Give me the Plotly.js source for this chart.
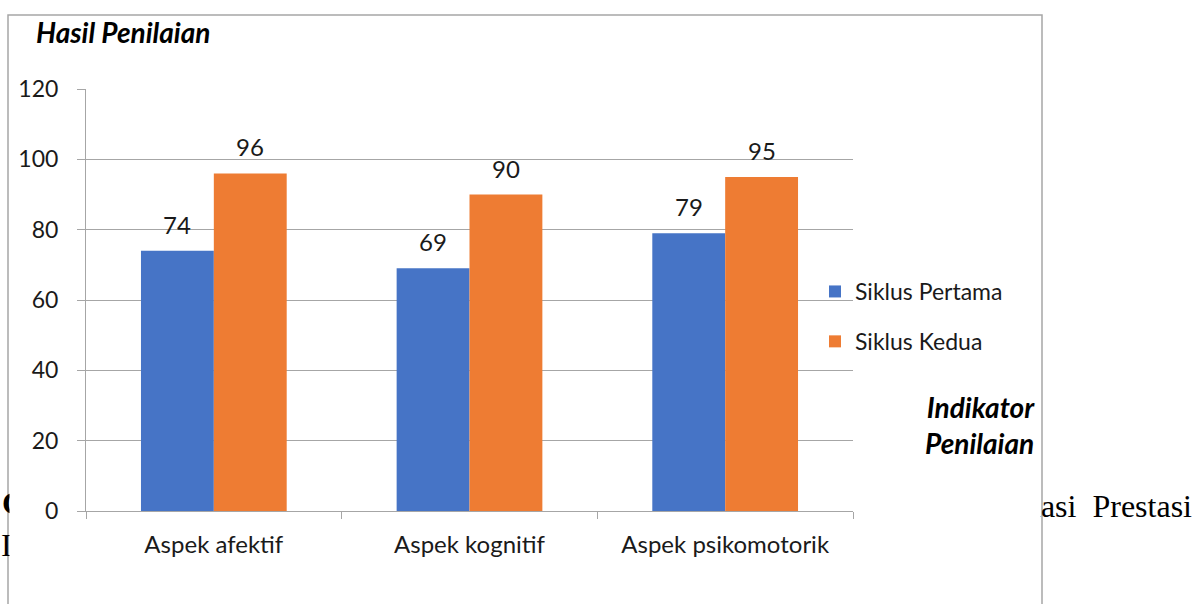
<!DOCTYPE html>
<html>
<head>
<meta charset="utf-8">
<script src="https://cdn.plot.ly/plotly-3.0.1.min.js"></script>
<style>html,body{margin:0;padding:0;background:#fff;}#chart{width:1194px;height:604px;}</style>
</head>
<body>
<div id="chart"></div>
<script>
const categories = ["Aspek afektif", "Aspek kognitif", "Aspek psikomotorik"];
const siklusPertama = [74, 69, 79];
const siklusKedua = [96, 90, 95];
const seriesNames = ["Siklus Pertama", "Siklus Kedua"];
const yTicks = [0, 20, 40, 60, 80, 100, 120];

const W = 1194, H = 604;
const M = {l: 86, r: 341, t: 89, b: 93};
const PW = W - M.l - M.r, PH = H - M.t - M.b;
const px = x => (x - M.l) / PW;
const py = y => (H - M.b - y) / PH;
const BARGAP = 0.43;

const FONT = "Lato, 'Open Sans', sans-serif";
const SERIF = "'Liberation Serif', 'DejaVu Serif', serif";

const traces = [
  {type: "bar", name: seriesNames[0], x: categories, y: siklusPertama,
   marker: {color: "#4674C6"}, legendgroup: "a", hoverinfo: "x+y"},
  {type: "bar", name: seriesNames[1], x: categories, y: siklusKedua,
   marker: {color: "#EE7C33"}, legendgroup: "b", hoverinfo: "x+y"}
];

// value labels above each bar, positioned through the axes
const barHalf = (PW / categories.length) * (1 - BARGAP) / 4;
const valueLabels = [];
[siklusPertama, siklusKedua].forEach((vals, s) => {
  vals.forEach((v, i) => {
    valueLabels.push({xref: "x", yref: "y", x: categories[i], y: v,
      xanchor: "center", yanchor: "bottom", xshift: (s === 0 ? -1 : 1) * barHalf, yshift: 10,
      text: String(v), showarrow: false, font: {family: FONT, size: 24, color: "#1a1a1a"}});
  });
});

const layout = {
  width: W, height: H,
  margin: M,
  paper_bgcolor: "#ffffff", plot_bgcolor: "#ffffff",
  font: {family: FONT, color: "#1a1a1a"},
  barmode: "group", bargap: BARGAP, bargroupgap: 0,
  showlegend: true,
  legend: {x: px(815), xanchor: "left", y: py(270), yanchor: "top",
           font: {family: FONT, size: 23, color: "#1a1a1a"},
           traceorder: "grouped", tracegroupgap: 17, bgcolor: "rgba(0,0,0,0)"},
  xaxis: {type: "category", showline: true, linecolor: "#a6a6a6", linewidth: 1,
          ticks: "outside", ticklen: 7, tickcolor: "#a6a6a6", tickson: "boundaries",
          showgrid: false, tickfont: {family: FONT, size: 24, color: "#1a1a1a"},
          ticklabelstandoff: 12, fixedrange: true},
  yaxis: {range: [0, 120], tickvals: yTicks, ticktext: yTicks.map(String),
          showline: true, linecolor: "#a6a6a6", linewidth: 1,
          ticks: "outside", ticklen: 8, tickcolor: "#a6a6a6",
          showgrid: true, gridcolor: "#a6a6a6", gridwidth: 1, zeroline: false,
          tickfont: {family: FONT, size: 23, color: "#1a1a1a"},
          ticklabelstandoff: 14, fixedrange: true},
  shapes: [
    {type: "rect", xref: "paper", yref: "paper",
     x0: px(8), x1: px(1042), y0: py(640), y1: py(15),
     line: {color: "#a6a6a6", width: 1.5}, fillcolor: "rgba(0,0,0,0)", layer: "below"}
  ],
  annotations: valueLabels.concat([
    {xref: "paper", yref: "paper", x: px(34), y: py(32), xanchor: "left", yanchor: "middle",
     text: "<b><i>Hasil Penilaian</i></b>", showarrow: false,
     font: {family: FONT, size: 28, color: "#000"}},
    {xref: "paper", yref: "paper", x: px(1037), y: py(425), xanchor: "right", yanchor: "middle",
     align: "right", text: "<b><i>Indikator<br>Penilaian</i></b>", showarrow: false,
     font: {family: FONT, size: 28, color: "#000"}},
    // document text behind the chart
    {xref: "paper", yref: "paper", x: px(0), y: py(503), xanchor: "left", yanchor: "middle",
     text: "<b>C</b>", showarrow: false, font: {family: SERIF, size: 32, color: "#000"}},
    {xref: "paper", yref: "paper", x: px(-1), y: py(545), xanchor: "left", yanchor: "middle",
     text: "I", showarrow: false, font: {family: SERIF, size: 32, color: "#000"}},
    {xref: "paper", yref: "paper", x: px(1194), y: py(506), xanchor: "right", yanchor: "middle",
     text: "luasi&nbsp; Prestasi", showarrow: false, font: {family: SERIF, size: 32, color: "#000"}},
    // white covers so the document text looks hidden behind the chart box
    {xref: "paper", yref: "paper", x: px(9), y: py(470), xanchor: "left", yanchor: "top",
     text: " ", width: 26, height: 110, bgcolor: "#ffffff", showarrow: false},
    {xref: "paper", yref: "paper", x: px(1041), y: py(480), xanchor: "right", yanchor: "top",
     text: " ", width: 80, height: 60, bgcolor: "#ffffff", showarrow: false}
  ])
};

Plotly.newPlot("chart", traces, layout, {displayModeBar: false, staticPlot: true});
</script>
</body>
</html>
